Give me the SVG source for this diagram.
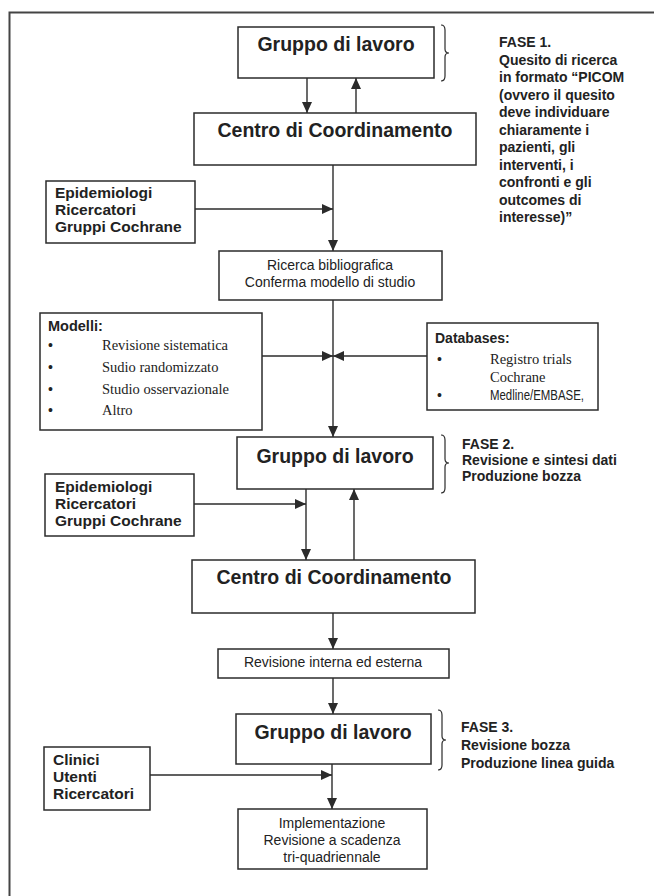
<svg xmlns="http://www.w3.org/2000/svg" width="654" height="896" viewBox="0 0 654 896">
<style>
.box{fill:#fff;stroke:#2b2b2b;stroke-width:1.5}
.conn{stroke:#2b2b2b;stroke-width:1.4;fill:none}
.brace{stroke:#2b2b2b;stroke-width:1.2;fill:none}
.title{font-family:"Liberation Sans",Arial,sans-serif;font-weight:bold;font-size:19.5px;fill:#222;text-anchor:middle}
.lab{font-family:"Liberation Sans",Arial,sans-serif;font-weight:bold;font-size:14px;fill:#222}
.blab{font-family:"Liberation Sans",Arial,sans-serif;font-weight:bold;font-size:15.5px;fill:#222}
.reg{font-family:"Liberation Sans",Arial,sans-serif;font-size:14px;fill:#222;text-anchor:middle}
.ser{font-family:"Liberation Serif","Times New Roman",serif;font-size:14.5px;fill:#222}
.san{font-family:"Liberation Sans",Arial,sans-serif;font-size:14px;fill:#222}
</style>
<defs>
<marker id="ah" markerUnits="userSpaceOnUse" markerWidth="11" markerHeight="10" refX="11" refY="5" orient="auto">
<path d="M0,0 L11,5 L0,10 z" fill="#2b2b2b"/>
</marker>
</defs>
<rect width="654" height="896" fill="#fff"/>
<path d="M9.5,896 V12.5 H654" fill="none" stroke="#444" stroke-width="2"/>

<g id="connectors">
<line class="conn" x1="307" y1="78" x2="307" y2="113" marker-end="url(#ah)"/>
<line class="conn" x1="356" y1="113" x2="356" y2="78" marker-end="url(#ah)"/>
<line class="conn" x1="333" y1="165" x2="333" y2="251" marker-end="url(#ah)"/>
<line class="conn" x1="195" y1="209" x2="333" y2="209" marker-end="url(#ah)"/>
<line class="conn" x1="333" y1="300" x2="333" y2="437" marker-end="url(#ah)"/>
<line class="conn" x1="262" y1="356" x2="333" y2="356" marker-end="url(#ah)"/>
<line class="conn" x1="427" y1="356" x2="333" y2="356" marker-end="url(#ah)"/>
<line class="conn" x1="194" y1="504" x2="306" y2="504" marker-end="url(#ah)"/>
<line class="conn" x1="306" y1="489" x2="306" y2="560" marker-end="url(#ah)"/>
<line class="conn" x1="354" y1="560" x2="354" y2="489" marker-end="url(#ah)"/>
<line class="conn" x1="333" y1="613" x2="333" y2="649" marker-end="url(#ah)"/>
<line class="conn" x1="333" y1="678" x2="333" y2="714" marker-end="url(#ah)"/>
<line class="conn" x1="150" y1="775" x2="332" y2="775" marker-end="url(#ah)"/>
<line class="conn" x1="332" y1="764" x2="332" y2="809" marker-end="url(#ah)"/>
</g>

<g id="gruppo1">
<rect class="box" x="238" y="27" width="196" height="51"/>
<text class="title" x="336" y="51">Gruppo di lavoro</text>
</g>
<g id="fase1">
<path class="brace" d="M441,25 q4,0 4,5 v19 q0,4 4,4 q-4,0 -4,4 v19 q0,5 -4,5"/>
<text class="lab" x="499" y="47">FASE 1.</text>
<text class="lab" x="499" y="64.5">Quesito di ricerca</text>
<text class="lab" x="499" y="82">in formato “PICOM</text>
<text class="lab" x="499" y="99.5">(ovvero il quesito</text>
<text class="lab" x="499" y="117">deve individuare</text>
<text class="lab" x="499" y="134.5">chiaramente i</text>
<text class="lab" x="499" y="152">pazienti, gli</text>
<text class="lab" x="499" y="169.5">interventi, i</text>
<text class="lab" x="499" y="187">confronti e gli</text>
<text class="lab" x="499" y="204.5">outcomes di</text>
<text class="lab" x="499" y="222">interesse)”</text>
</g>
<g id="centro1">
<rect class="box" x="194" y="113" width="282" height="52"/>
<text class="title" x="335" y="137">Centro di Coordinamento</text>
</g>
<g id="epi1">
<rect class="box" x="46" y="181" width="149" height="62"/>
<text class="blab" x="55" y="198">Epidemiologi</text>
<text class="blab" x="55" y="215">Ricercatori</text>
<text class="blab" x="55" y="232">Gruppi Cochrane</text>
</g>
<g id="ricerca">
<rect class="box" x="219" y="251" width="223" height="49"/>
<text class="reg" x="330" y="270">Ricerca bibliografica</text>
<text class="reg" x="330" y="287">Conferma modello di studio</text>
</g>
<g id="modelli">
<rect class="box" x="40" y="313" width="222" height="117"/>
<text class="lab" x="48" y="331" style="font-size:14.5px">Modelli:</text>
<text class="san" x="48" y="350">•</text>
<text class="ser" x="102" y="350">Revisione sistematica</text>
<text class="san" x="48" y="372">•</text>
<text class="ser" x="102" y="372">Sudio randomizzato</text>
<text class="san" x="48" y="394">•</text>
<text class="ser" x="102" y="394">Studio osservazionale</text>
<text class="san" x="48" y="415">•</text>
<text class="ser" x="102" y="415">Altro</text>
</g>
<g id="databases">
<rect class="box" x="427" y="323" width="171" height="87"/>
<text class="lab" x="435" y="343">Databases:</text>
<text class="san" x="437" y="364">•</text>
<text class="ser" x="490" y="364">Registro trials</text>
<text class="ser" x="490" y="382">Cochrane</text>
<text class="san" x="437" y="400">•</text>
<text class="san" x="490" y="400" textLength="94" lengthAdjust="spacingAndGlyphs">Medline/EMBASE,</text>
</g>
<g id="gruppo2">
<rect class="box" x="237" y="437" width="196" height="52"/>
<text class="title" x="335" y="463">Gruppo di lavoro</text>
</g>
<g id="fase2">
<path class="brace" d="M441,435 q4,0 4,5 v19 q0,4 4,4 q-4,0 -4,4 v21 q0,5 -4,5"/>
<text class="lab" x="462" y="449">FASE 2.</text>
<text class="lab" x="462" y="465">Revisione e sintesi dati</text>
<text class="lab" x="462" y="481">Produzione bozza</text>
</g>
<g id="epi2">
<rect class="box" x="45" y="474" width="149" height="62"/>
<text class="blab" x="55" y="492">Epidemiologi</text>
<text class="blab" x="55" y="509">Ricercatori</text>
<text class="blab" x="55" y="526">Gruppi Cochrane</text>
</g>
<g id="centro2">
<rect class="box" x="192" y="560" width="283" height="53"/>
<text class="title" x="334" y="584">Centro di Coordinamento</text>
</g>
<g id="revisione">
<rect class="box" x="218" y="649" width="231" height="29"/>
<text class="reg" x="333" y="667">Revisione interna ed esterna</text>
</g>
<g id="gruppo3">
<rect class="box" x="236" y="714" width="195" height="50"/>
<text class="title" x="333" y="739">Gruppo di lavoro</text>
</g>
<g id="fase3">
<path class="brace" d="M438,710 q4,0 4,5 v21 q0,4 4,4 q-4,0 -4,4 v21 q0,5 -4,5"/>
<text class="lab" x="461" y="732">FASE 3.</text>
<text class="lab" x="461" y="750">Revisione bozza</text>
<text class="lab" x="461" y="768">Produzione linea guida</text>
</g>
<g id="clinici">
<rect class="box" x="44" y="747" width="106" height="63"/>
<text class="blab" x="53" y="765">Clinici</text>
<text class="blab" x="53" y="782">Utenti</text>
<text class="blab" x="53" y="799">Ricercatori</text>
</g>
<g id="implementazione">
<rect class="box" x="238" y="809" width="189" height="60"/>
<text class="reg" x="332" y="828">Implementazione</text>
<text class="reg" x="332" y="845">Revisione a scadenza</text>
<text class="reg" x="332" y="862">tri-quadriennale</text>
</g>
</svg>
